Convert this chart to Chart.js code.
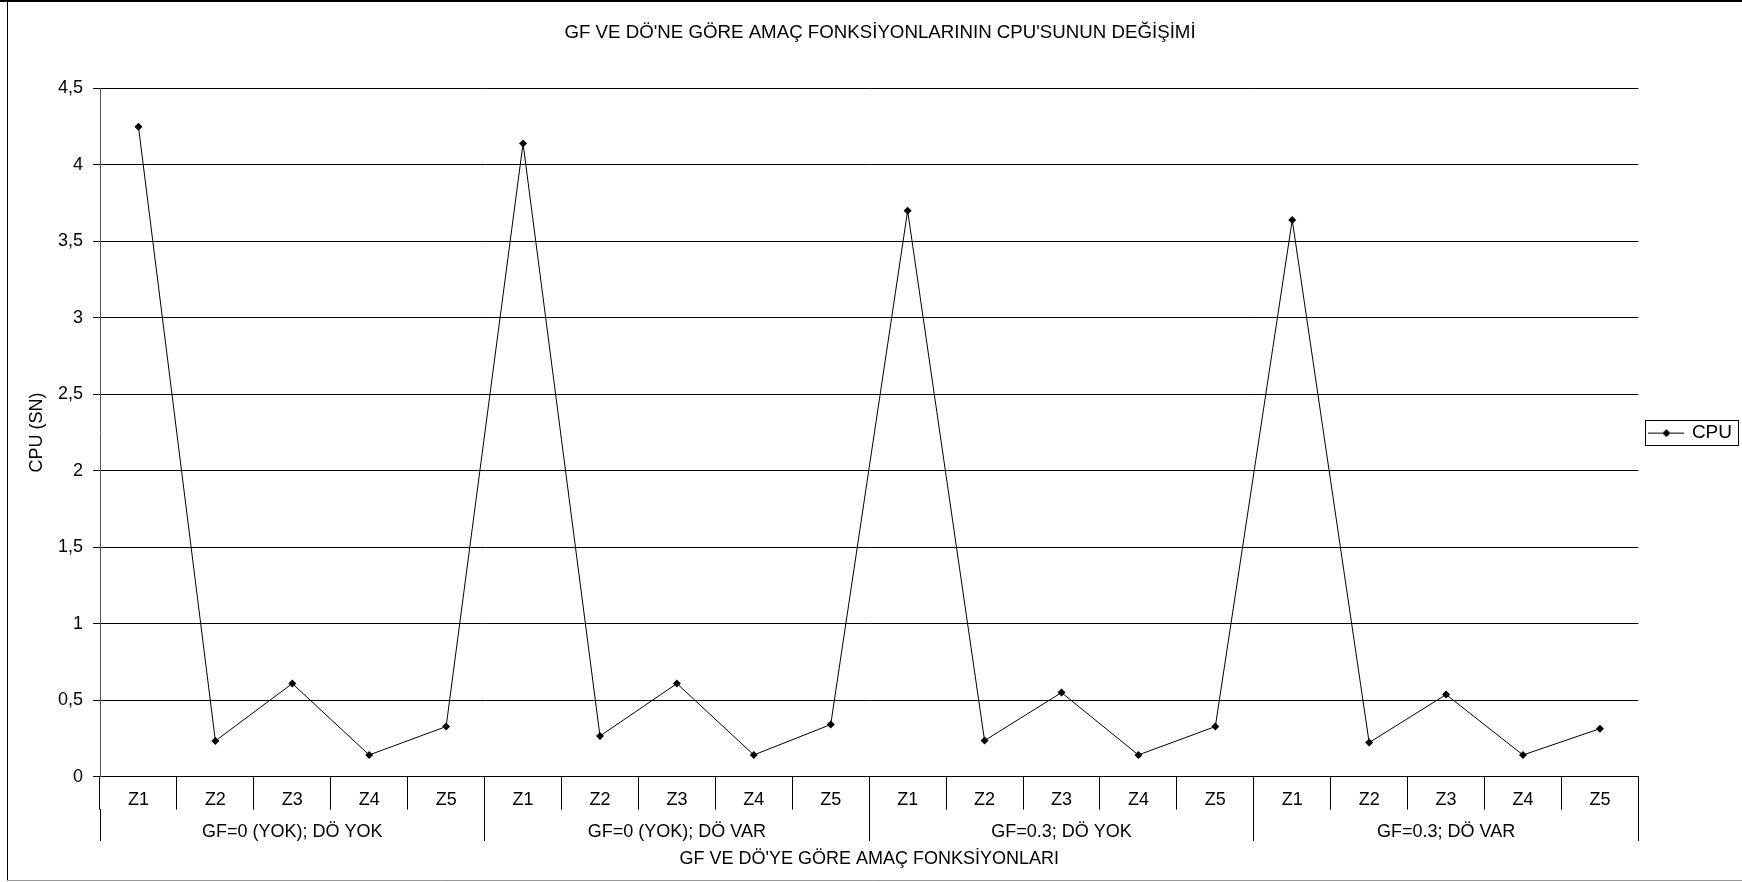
<!DOCTYPE html>
<html>
<head>
<meta charset="utf-8">
<script src="https://cdn.jsdelivr.net/npm/chart.js@4.4.1/dist/chart.umd.min.js"></script>
<style>
  html, body { margin: 0; padding: 0; background: #fff; }
  #wrap { width: 1742px; height: 882px; }
</style>
</head>
<body>
<div id="wrap"><canvas id="c" width="1742" height="882"></canvas></div>
<script>
// Objective functions (Z1..Z5) repeated for each GF / DÖ setting
const categories = [
  'Z1', 'Z2', 'Z3', 'Z4', 'Z5',
  'Z1', 'Z2', 'Z3', 'Z4', 'Z5',
  'Z1', 'Z2', 'Z3', 'Z4', 'Z5',
  'Z1', 'Z2', 'Z3', 'Z4', 'Z5'
];
const groupLabels = ['GF=0 (YOK); DÖ YOK', 'GF=0 (YOK); DÖ VAR', 'GF=0.3; DÖ YOK', 'GF=0.3; DÖ VAR'];

// CPU time (seconds)
const cpuValues = [
  4.25, 0.234, 0.609, 0.142, 0.328,
  4.14, 0.266, 0.609, 0.142, 0.341,
  3.70, 0.236, 0.550, 0.142, 0.328,
  3.64, 0.223, 0.537, 0.142, 0.314
];

const yTickLabels = ['0', '0,5', '1', '1,5', '2', '2,5', '3', '3,5', '4', '4,5'];

const chartTitle = "GF VE DÖ'NE GÖRE AMAÇ FONKSİYONLARININ CPU'SUNUN DEĞİŞİMİ";
const xTitle = "GF VE DÖ'YE GÖRE AMAÇ FONKSİYONLARI";
const yTitle = 'CPU (SN)';
const seriesName = 'CPU';

const FONT = "'Liberation Sans', Arial, sans-serif";
Chart.defaults.font.family = FONT;
Chart.defaults.font.size = 18;
Chart.defaults.color = '#000';

// legend symbol: short line with a diamond marker
const legendSymbol = document.createElement('canvas');
legendSymbol.width = 36; legendSymbol.height = 12;
(function () {
  const g = legendSymbol.getContext('2d');
  g.strokeStyle = '#000'; g.lineWidth = 1;
  g.beginPath(); g.moveTo(0, 6.5); g.lineTo(36, 6.5); g.stroke();
  g.fillStyle = '#000';
  g.beginPath(); g.moveTo(18, 2.5); g.lineTo(22, 6.5); g.lineTo(18, 10.5); g.lineTo(14, 6.5); g.closePath(); g.fill();
})();

const frame = {
  id: 'frame',
  afterLayout(chart) {
    // keep the legend vertically centred on the plot area
    const lg = chart.legend, ca = chart.chartArea;
    if (lg && ca) {
      lg.top = ca.top;
      lg.bottom = ca.bottom;
      lg.height = ca.bottom - ca.top;
    }
  },
  afterDraw(chart) {
    const ctx = chart.ctx;
    ctx.save();
    // outer chart border
    ctx.strokeStyle = '#000';
    ctx.lineWidth = 2;
    ctx.beginPath(); ctx.moveTo(0, 1); ctx.lineTo(1742, 1); ctx.stroke();
    ctx.lineWidth = 1;
    ctx.beginPath(); ctx.moveTo(7.5, 1); ctx.lineTo(7.5, 881); ctx.stroke();
    ctx.strokeStyle = '#999';
    ctx.beginPath(); ctx.moveTo(7, 880.5); ctx.lineTo(1742, 880.5); ctx.stroke();
    // legend box
    const hb = chart.legend && chart.legend.legendHitBoxes && chart.legend.legendHitBoxes[0];
    if (hb) {
      ctx.strokeStyle = '#000';
      const l = Math.round(hb.left - 5) + 0.5;
      const t = Math.round(hb.top - 3) + 0.5;
      const r = Math.round(hb.left + hb.width + 6) + 0.5;
      const b = Math.round(hb.top + hb.height + 3) + 0.5;
      ctx.strokeRect(l, t, r - l, b - t);
    }
    ctx.restore();
  }
};

new Chart(document.getElementById('c'), {
  type: 'line',
  data: {
    labels: categories,
    datasets: [{
      label: seriesName,
      data: cpuValues,
      borderColor: '#000',
      backgroundColor: '#000',
      borderWidth: 1,
      tension: 0,
      pointStyle: 'rectRot',
      pointRadius: 4,
      pointHoverRadius: 4,
      pointBackgroundColor: '#000',
      pointBorderColor: '#000',
      pointBorderWidth: 0,
      xAxisID: 'x',
      yAxisID: 'y'
    }]
  },
  options: {
    responsive: false,
    animation: false,
    devicePixelRatio: 1,
    layout: { padding: { left: 18, right: 0, top: 0, bottom: 0 } },
    plugins: {
      tooltip: { enabled: false },
      title: {
        display: true,
        text: chartTitle,
        color: '#000',
        font: { size: 18.7, weight: 'normal' },
        padding: { top: 22, bottom: 44 }
      },
      legend: {
        position: 'right',
        align: 'center',
        labels: {
          usePointStyle: true,
          pointStyle: legendSymbol,
          pointStyleWidth: 32,
          padding: 12,
          color: '#000',
          font: { size: 19 }
        }
      }
    },
    scales: {
      x: {
        type: 'category',
        position: 'bottom',
        offset: true,
        grid: { offset: true, drawOnChartArea: false, tickLength: 33, color: '#000', tickColor: '#000', lineWidth: 1 },
        border: { display: true, color: '#000' },
        ticks: { padding: -20, maxRotation: 0, autoSkip: false, color: '#000', font: { size: 18 } },
        afterFit: s => { s.height = 32.3; }
      },
      y: {
        min: 0,
        max: 4.5,
        ticks: {
          stepSize: 0.5,
          padding: 10,
          color: '#000',
          font: { size: 18 },
          callback: (v, i) => yTickLabels[i]
        },
        grid: { color: '#000', tickColor: '#000', tickLength: 7, lineWidth: 1 },
        border: { display: true, color: '#555' },
        title: { display: true, text: yTitle, color: '#000', font: { size: 18 }, padding: { top: 8, bottom: 0 } },
        afterFit: s => { s.width = 82; }
      },
      x2: {
        type: 'category',
        position: 'bottom',
        labels: groupLabels,
        offset: true,
        grid: { offset: true, drawOnChartArea: false, tickLength: 32, color: '#000', tickColor: '#000', lineWidth: 1 },
        border: { display: false },
        ticks: { padding: -20, maxRotation: 0, autoSkip: false, color: '#000', font: { size: 18 } },
        title: { display: true, text: xTitle, color: '#000', font: { size: 18 }, padding: { top: 0, bottom: 12 } },
        afterFit: s => { s.height = 73; }
      }
    }
  },
  plugins: [frame]
});
</script>
</body>
</html>
